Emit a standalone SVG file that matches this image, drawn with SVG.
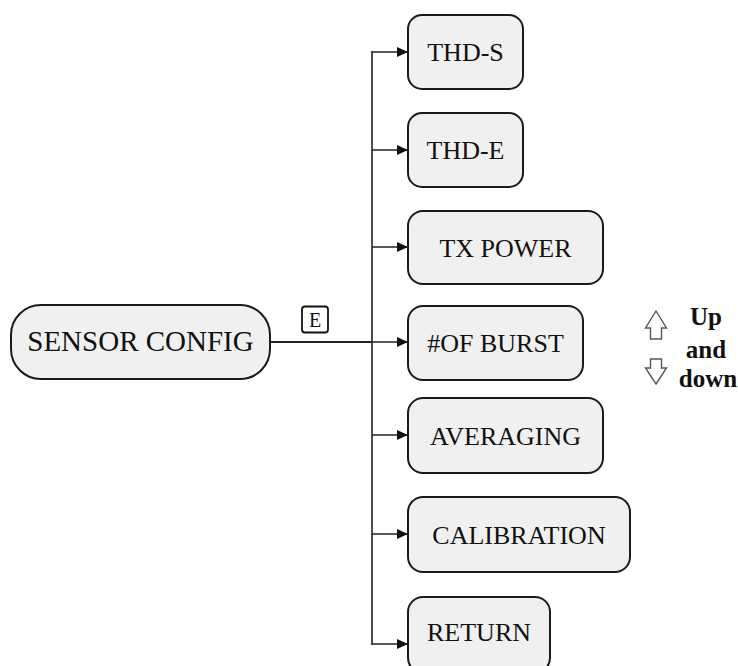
<svg xmlns="http://www.w3.org/2000/svg" width="738" height="666" viewBox="0 0 738 666">
  <style>
    .box { fill: #f0f0f0; stroke: #1a1a1a; stroke-width: 2; }
    .lbl { font-family: "Liberation Serif", "Times New Roman", serif; font-size: 26px; fill: #111; text-anchor: middle; }
    .big { font-size: 29px; }
    .wire { fill: none; stroke: #222; stroke-width: 1.6; }
    .hint { font-family: "Liberation Serif", "Times New Roman", serif; font-size: 25px; font-weight: bold; fill: #111; text-anchor: middle; }
    .updown { fill: #fff; stroke: #555; stroke-width: 1.4; stroke-linejoin: miter; }
  </style>
  <defs>
    <marker id="arrow" markerWidth="11" markerHeight="10" refX="11" refY="5" orient="auto" markerUnits="userSpaceOnUse">
      <path d="M0,0 L11,5 L0,10 Z" fill="#111"/>
    </marker>
  </defs>

  <rect width="738" height="666" fill="#fff"/>

  <!-- connectors -->
  <g id="connectors">
    <line class="wire" x1="270" y1="342" x2="372" y2="342" style="stroke-width:2"/>
    <line class="wire" x1="372" y1="51" x2="372" y2="645"/>
    <line class="wire" x1="372" y1="52" x2="408" y2="52" marker-end="url(#arrow)"/>
    <line class="wire" x1="372" y1="150" x2="408" y2="150" marker-end="url(#arrow)"/>
    <line class="wire" x1="372" y1="247" x2="408" y2="247" marker-end="url(#arrow)"/>
    <line class="wire" x1="372" y1="342" x2="408" y2="342" marker-end="url(#arrow)"/>
    <line class="wire" x1="372" y1="435" x2="408" y2="435" marker-end="url(#arrow)"/>
    <line class="wire" x1="372" y1="534" x2="408" y2="534" marker-end="url(#arrow)"/>
    <line class="wire" x1="372" y1="644" x2="408" y2="644" marker-end="url(#arrow)"/>
    <!-- key label on the entry connector -->
    <g id="key-e">
      <rect x="302" y="306.5" width="26" height="26" rx="3" fill="#fff" stroke="#111" stroke-width="1.8"/>
      <text x="315" y="327" style="font-family:'Liberation Serif','Times New Roman',serif;font-size:20px;fill:#111;text-anchor:middle">E</text>
    </g>
  </g>

  <!-- root node -->
  <g id="sensor-config">
    <rect class="box" x="11" y="305" width="259" height="74" rx="30"/>
    <text class="lbl big" x="140.5" y="351">SENSOR CONFIG</text>
  </g>

  <!-- menu entries -->
  <g id="thd-s">
    <rect class="box" x="408" y="15" width="115" height="74" rx="14"/>
    <text class="lbl" x="465.5" y="61">THD-S</text>
  </g>
  <g id="thd-e">
    <rect class="box" x="408" y="113" width="115" height="74" rx="14"/>
    <text class="lbl" x="465.5" y="159">THD-E</text>
  </g>
  <g id="tx-power">
    <rect class="box" x="408" y="211" width="195" height="73" rx="15"/>
    <text class="lbl" x="505.5" y="256.5">TX POWER</text>
  </g>
  <g id="of-burst">
    <rect class="box" x="408" y="306" width="175" height="74" rx="15"/>
    <text class="lbl" x="495.5" y="352">#OF BURST</text>
  </g>
  <g id="averaging">
    <rect class="box" x="408" y="398" width="195" height="75" rx="15"/>
    <text class="lbl" x="505.5" y="444.5">AVERAGING</text>
  </g>
  <g id="calibration">
    <rect class="box" x="408" y="497" width="222" height="75" rx="15"/>
    <text class="lbl" x="519" y="543.5">CALIBRATION</text>
  </g>
  <g id="return">
    <rect class="box" x="408" y="597" width="142" height="76" rx="15"/>
    <text class="lbl" x="479" y="641">RETURN</text>
  </g>

  <!-- navigation hint -->
  <g id="nav-hint">
    <path class="updown" d="M656,311 L666.5,328 L661.5,328 L661.5,339 L650.5,339 L650.5,328 L645.5,328 Z"/>
    <path class="updown" d="M656,384 L666.5,368 L661.5,368 L661.5,359 L650.5,359 L650.5,368 L645.5,368 Z"/>
    <text class="hint" x="706" y="325">Up</text>
    <text class="hint" x="706" y="358">and</text>
    <text class="hint" x="708" y="387">down</text>
  </g>
</svg>
